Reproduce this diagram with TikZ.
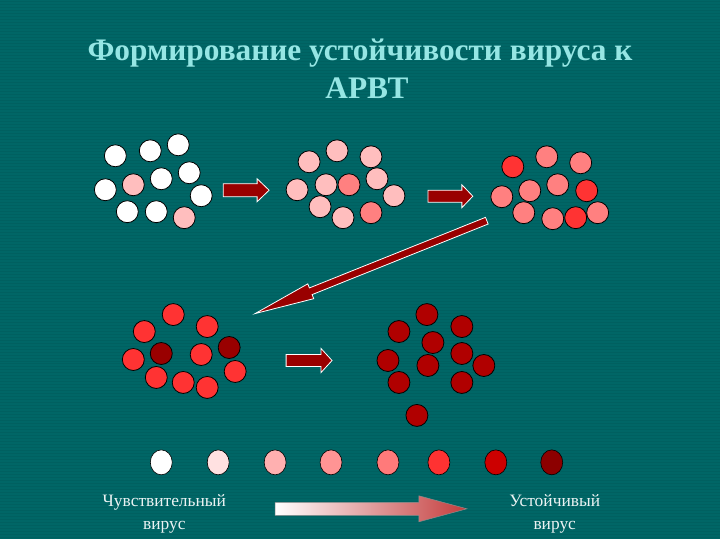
\documentclass[tikz,border=0pt]{standalone}
\usepackage{fontspec}
\setmainfont{Liberation Serif}
\usetikzlibrary{calc, shapes.geometric}
\definecolor{bgteal}{RGB}{0,102,102}
\definecolor{titlecyan}{RGB}{150,230,228}
\definecolor{arrowred}{RGB}{153,0,0}
\definecolor{gradred}{RGB}{196,60,60}
\definecolor{vpink}{RGB}{255,190,190}
\definecolor{vsalmon}{RGB}{255,128,128}
\definecolor{vred}{RGB}{255,51,51}
\definecolor{vdark}{RGB}{153,0,0}
\definecolor{vmaroon}{RGB}{176,0,0}
\definecolor{lgtwo}{RGB}{255,225,225}
\definecolor{lgthree}{RGB}{255,176,176}
\definecolor{lgfour}{RGB}{255,148,148}
\definecolor{lgfive}{RGB}{255,122,122}
\definecolor{lgsix}{RGB}{255,50,50}
\definecolor{lgseven}{RGB}{204,0,0}
\definecolor{lgeight}{RGB}{140,0,0}

% block arrow between two named coordinates:
% [style]{from}{to}{shaft half width}{head half width}{head length}
\newcommand{\blockarrow}[6][barrow]{%
  \coordinate (hb) at ($(#3)!#6!(#2)$);
  \path[#1] ($(#2)!#4!90:(#3)$) -- ($(hb)!#4!90:(#3)$) -- ($(hb)!#5!90:(#3)$)
    -- (#3) -- ($(hb)!#5!-90:(#3)$) -- ($(hb)!#4!-90:(#3)$) -- ($(#2)!#4!-90:(#3)$) -- cycle;
}

\begin{document}
\begin{tikzpicture}[
    x=1bp, y=-1bp,
    virus/.style={circle, draw=black, line width=0.8pt, minimum size=22bp, inner sep=0pt},
    dot/.style={ellipse, draw=black, line width=0.6pt, minimum width=22bp, minimum height=25bp, inner sep=0pt},
    barrow/.style={fill=arrowred, draw=white, line width=0.8pt},
    heading/.style={font=\fontsize{31.5}{38}\selectfont\bfseries, text=titlecyan, inner sep=0pt},
    legend/.style={font=\fontsize{17.5}{23}\selectfont, text=white!92!bgteal, align=center, inner sep=0pt},
]

% === Background ===
\fill[bgteal] (0,0) rectangle (720,540);
\foreach \k in {1.5,4.5,...,540}
    \draw[black, opacity=0.06, line width=1bp] (0,\k) -- (720,\k);

% === Title ===
\node[heading, anchor=base] (title) at (360,61) {Формирование устойчивости вируса к};
\node[heading, anchor=base] (titleb) at (367,99) {АРВТ};

% === Cluster 1: sensitive ===
\node[virus, fill=white] (a1) at (115,156) {};
\node[virus, fill=white] (a2) at (150,151) {};
\node[virus, fill=white] (a3) at (178,145) {};
\node[virus, fill=white] (a4) at (105,190) {};
\node[virus, fill=vpink] (a5) at (133,185) {};
\node[virus, fill=white] (a6) at (161,179) {};
\node[virus, fill=white] (a7) at (189,173) {};
\node[virus, fill=white] (a8) at (201,196) {};
\node[virus, fill=white] (a9) at (127,212) {};
\node[virus, fill=white] (a10) at (156,212) {};
\node[virus, fill=vpink] (a11) at (184,218) {};

% === Cluster 2 ===
\node[virus, fill=vpink] (b1) at (337,151) {};
\node[virus, fill=vpink] (b2) at (309,162) {};
\node[virus, fill=vpink] (b3) at (371,157) {};
\node[virus, fill=vpink] (b4) at (297,190) {};
\node[virus, fill=vpink] (b5) at (326,185) {};
\node[virus, fill=vsalmon] (b6) at (349,185) {};
\node[virus, fill=vpink] (b7) at (377,179) {};
\node[virus, fill=vpink] (b8) at (394,196) {};
\node[virus, fill=vpink] (b9) at (320,207) {};
\node[virus, fill=vpink] (b10) at (343,218) {};
\node[virus, fill=vsalmon] (b11) at (371,213) {};

% === Cluster 3 ===
\node[virus, fill=vred] (c1) at (513,167) {};
\node[virus, fill=vsalmon] (c2) at (547,157) {};
\node[virus, fill=vsalmon] (c3) at (581,163) {};
\node[virus, fill=vsalmon] (c4) at (502,197) {};
\node[virus, fill=vsalmon] (c5) at (530,191) {};
\node[virus, fill=vsalmon] (c6) at (558,185) {};
\node[virus, fill=vred] (c7) at (587,191) {};
\node[virus, fill=vsalmon] (c8) at (524,213) {};
\node[virus, fill=vsalmon] (c9) at (553,219) {};
\node[virus, fill=vred] (c10) at (576,218) {};
\node[virus, fill=vsalmon] (c11) at (598,213) {};

% === Cluster 4 ===
\node[virus, fill=vred] (d1) at (173,315) {};
\node[virus, fill=vred] (d2) at (144,332) {};
\node[virus, fill=vred] (d3) at (207,327) {};
\node[virus, fill=vred] (d4) at (133,360) {};
\node[virus, fill=vdark] (d5) at (161,354) {};
\node[virus, fill=vred] (d6) at (201,355) {};
\node[virus, fill=vdark] (d7) at (229,348) {};
\node[virus, fill=vred] (d8) at (156,378) {};
\node[virus, fill=vred] (d9) at (183,383) {};
\node[virus, fill=vred] (d10) at (207,388) {};
\node[virus, fill=vred] (d11) at (235,372) {};

% === Cluster 5: resistant ===
\node[virus, fill=vmaroon] (e1) at (427,315) {};
\node[virus, fill=vmaroon] (e2) at (399,332) {};
\node[virus, fill=vmaroon] (e3) at (462,327) {};
\node[virus, fill=vmaroon] (e4) at (433,343) {};
\node[virus, fill=vmaroon] (e5) at (388,361) {};
\node[virus, fill=vmaroon] (e6) at (428,366) {};
\node[virus, fill=vmaroon] (e7) at (462,354) {};
\node[virus, fill=vmaroon] (e8) at (484,366) {};
\node[virus, fill=vmaroon] (e9) at (399,383) {};
\node[virus, fill=vmaroon] (e10) at (462,383) {};
\node[virus, fill=vmaroon] (e11) at (417,416) {};

% === Arrows between clusters ===
\coordinate (ar1s) at (223,190.5);
\coordinate (ar1e) at (269,190.5);
\coordinate (ar2s) at (428,196.5);
\coordinate (ar2e) at (473,196.5);
\coordinate (ar3s) at (286,361);
\coordinate (ar3e) at (332,361);
\coordinate (dgs) at (487,221);
\coordinate (dge) at (255,314);
\blockarrow{ar1s}{ar1e}{6.5bp}{11.5bp}{12bp}
\blockarrow{ar2s}{ar2e}{6bp}{11.5bp}{11bp}
\blockarrow{ar3s}{ar3e}{6bp}{12bp}{11bp}
\blockarrow{dgs}{dge}{3.6bp}{8bp}{60bp}

% === Legend scale ===
\node[dot, fill=white] (l1) at (161,463) {};
\node[dot, fill=lgtwo] (l2) at (218,463) {};
\node[dot, fill=lgthree] (l3) at (275,463) {};
\node[dot, fill=lgfour] (l4) at (331,463) {};
\node[dot, fill=lgfive] (l5) at (388,463) {};
\node[dot, fill=lgsix] (l6) at (439,463) {};
\node[dot, fill=lgseven] (l7) at (496,463) {};
\node[dot, fill=lgeight] (l8) at (552,463) {};

\node[legend, anchor=north] (lsens) at (164,495) {Чувствительный\\вирус};
\node[legend, anchor=north] (lres) at (555,495) {Устойчивый\\вирус};

\coordinate (grs) at (275,509.5);
\coordinate (gre) at (467,509.5);
\blockarrow[{left color=white, right color=gradred, draw=black!45, line width=0.5pt}]{grs}{gre}{6.5bp}{13bp}{48bp}

\end{tikzpicture}
\end{document}
